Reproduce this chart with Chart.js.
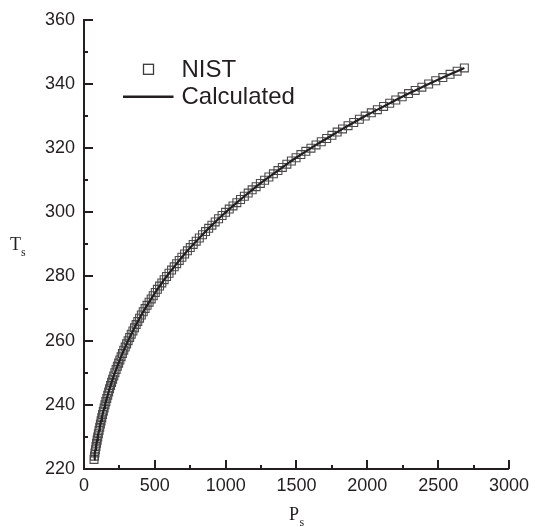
<!DOCTYPE html>
<html>
<head>
<meta charset="utf-8">
<script src="https://cdn.jsdelivr.net/npm/chart.js@4.4.1/dist/chart.umd.min.js"></script>
<style>
  html, body { margin: 0; padding: 0; background: #ffffff; }
  #wrap { width: 535px; height: 527px; position: relative; }
</style>
</head>
<body>
<div id="wrap"><canvas id="chart" width="535" height="527"></canvas></div>
<script>
// Saturation temperature (K)
const satTemp = [
  223, 224, 225, 226, 227, 228, 229, 230, 231, 232,
  233, 234, 235, 236, 237, 238, 239, 240, 241, 242,
  243, 244, 245, 246, 247, 248, 249, 250, 251, 252,
  253, 254, 255, 256, 257, 258, 259, 260, 261, 262,
  263, 264, 265, 266, 267, 268, 269, 270, 271, 272,
  273, 274, 275, 276, 277, 278, 279, 280, 281, 282,
  283, 284, 285, 286, 287, 288, 289, 290, 291, 292,
  293, 294, 295, 296, 297, 298, 299, 300, 301, 302,
  303, 304, 305, 306, 307, 308, 309, 310, 311, 312,
  313, 314, 315, 316, 317, 318, 319, 320, 321, 322,
  323, 324, 325, 326, 327, 328, 329, 330, 331, 332,
  333, 334, 335, 336, 337, 338, 339, 340, 341, 342,
  343, 344, 345
];

// Saturation pressure (kPa), reference values
const nistPressure = [
  70.7, 74.0, 77.4, 81.0, 84.7, 88.6, 92.7, 97.0, 101.5, 106.2,
  111.1, 115.8, 120.6, 125.6, 130.9, 136.4, 142.1, 148.0, 154.2, 160.7,
  167.4, 173.9, 180.6, 187.6, 194.8, 202.3, 210.1, 218.2, 226.7, 235.4,
  244.5, 253.1, 262.0, 271.2, 280.7, 290.6, 300.8, 311.4, 322.3, 333.6,
  345.4, 356.5, 368.0, 379.9, 392.2, 404.8, 417.9, 431.3, 445.3, 459.6,
  474.4, 488.6, 503.1, 518.2, 533.6, 549.5, 565.9, 582.8, 600.2, 618.1,
  636.6, 654.2, 672.4, 691.0, 710.1, 729.8, 750.0, 770.8, 792.1, 814.1,
  836.5, 858.1, 880.2, 902.9, 926.1, 950.0, 974.5, 999.6, 1025.3, 1051.8,
  1079, 1105, 1132, 1159, 1187, 1215, 1245, 1275, 1305, 1337,
  1369, 1400, 1432, 1464, 1497, 1531, 1566, 1602, 1638, 1675,
  1713, 1750, 1787, 1825, 1864, 1904, 1944, 1985, 2028, 2071,
  2115, 2158, 2201, 2246, 2291, 2338, 2385, 2433, 2483, 2533,
  2584, 2634, 2685
];

// Saturation pressure (kPa), model output
const calcPressure = nistPressure.slice();

const xTickValues = [0, 500, 1000, 1500, 2000, 2500, 3000];
const yTickValues = [220, 240, 260, 280, 300, 320, 340, 360];
const seriesLabels = ['NIST', 'Calculated'];
const xTitle = ['P', 's'];
const yTitle = ['T', 's'];

const INK = '#231f20';
const SANS = '"Liberation Sans", Arial, Helvetica, sans-serif';
const SERIF = '"Liberation Serif", "Times New Roman", serif';

Chart.defaults.font.family = SANS;
Chart.defaults.color = INK;

const toPoints = (xs, ys) => xs.map((x, i) => ({ x: x, y: ys[i] }));

// Inward tick marks, inline legend and subscripted axis titles
const decorations = {
  id: 'decorations',
  afterDraw(chart) {
    const { ctx, chartArea: a, scales } = chart;
    const xs = scales.x, ys = scales.y;
    ctx.save();
    ctx.strokeStyle = INK;
    ctx.lineWidth = 2;
    ctx.beginPath();
    xTickValues.forEach((v, i) => {
      const px = Math.round(xs.getPixelForValue(v));
      ctx.moveTo(px, a.bottom); ctx.lineTo(px, a.bottom - 9);
      if (i < xTickValues.length - 1) {
        const mx = Math.round(xs.getPixelForValue((v + xTickValues[i + 1]) / 2));
        ctx.moveTo(mx, a.bottom); ctx.lineTo(mx, a.bottom - 4);
      }
    });
    yTickValues.forEach((v, i) => {
      const py = Math.round(ys.getPixelForValue(v));
      ctx.moveTo(a.left, py); ctx.lineTo(a.left + 9, py);
      if (i < yTickValues.length - 1) {
        const my = Math.round(ys.getPixelForValue((v + yTickValues[i + 1]) / 2));
        ctx.moveTo(a.left, my); ctx.lineTo(a.left + 4, my);
      }
    });
    ctx.stroke();

    // legend
    const lx = a.left, ty = a.top;
    ctx.strokeStyle = '#3a3a3a';
    ctx.lineWidth = 1.3;
    ctx.strokeRect(lx + 59.5, ty + 44.5, 10, 10);
    ctx.strokeStyle = INK;
    ctx.lineWidth = 2.5;
    ctx.beginPath();
    ctx.moveTo(lx + 39, ty + 77); ctx.lineTo(lx + 89.5, ty + 77);
    ctx.stroke();
    ctx.fillStyle = INK;
    ctx.font = '24px ' + SANS;
    ctx.textBaseline = 'alphabetic';
    ctx.textAlign = 'left';
    ctx.fillText(seriesLabels[0], lx + 97.5, ty + 57);
    ctx.fillText(seriesLabels[1], lx + 97.5, ty + 84.5);

    // axis titles
    ctx.font = '18px ' + SERIF;
    ctx.fillText(xTitle[0], 289, 520);
    ctx.fillText(yTitle[0], 10, 250);
    ctx.font = '12px ' + SERIF;
    ctx.fillText(xTitle[1], 299.5, 526);
    ctx.fillText(yTitle[1], 21, 256);
    ctx.restore();
  }
};

new Chart(document.getElementById('chart'), {
  type: 'scatter',
  data: {
    datasets: [
      {
        label: seriesLabels[1],
        data: toPoints(calcPressure, satTemp),
        showLine: true,
        borderColor: INK,
        borderWidth: 2.2,
        pointRadius: 0,
        fill: false,
        order: 0
      },
      {
        label: seriesLabels[0],
        data: toPoints(nistPressure, satTemp),
        showLine: false,
        pointStyle: 'rect',
        pointRadius: 5.6,
        pointBorderColor: '#4a4a4a',
        pointBorderWidth: 1.1,
        pointBackgroundColor: 'rgba(0,0,0,0)',
        order: 1
      }
    ]
  },
  options: {
    responsive: false,
    animation: false,
    devicePixelRatio: 1,
    layout: { padding: { top: 17.5, right: 22, left: 0, bottom: 0 } },
    plugins: {
      legend: { display: false },
      tooltip: { enabled: false }
    },
    scales: {
      x: {
        type: 'linear',
        min: 0, max: 3000,
        afterBuildTicks: s => { s.ticks = xTickValues.map(v => ({ value: v })); },
        afterFit: s => { s.height = 58; },
        grid: { display: true, drawOnChartArea: false, drawTicks: false },
        border: { display: true, color: INK, width: 2 },
        ticks: {
          padding: 6, maxRotation: 0, autoSkip: false, color: INK,
          font: { size: 18, family: SANS },
          callback: v => String(v)
        }
      },
      y: {
        type: 'linear',
        min: 220, max: 360,
        afterBuildTicks: s => { s.ticks = yTickValues.map(v => ({ value: v })); },
        afterFit: s => { s.width = 84; },
        grid: { display: true, drawOnChartArea: false, drawTicks: false },
        border: { display: true, color: INK, width: 2 },
        ticks: {
          padding: 9, autoSkip: false, color: INK,
          font: { size: 18, family: SANS },
          callback: v => String(v)
        }
      }
    }
  },
  plugins: [decorations]
});
</script>
</body>
</html>
